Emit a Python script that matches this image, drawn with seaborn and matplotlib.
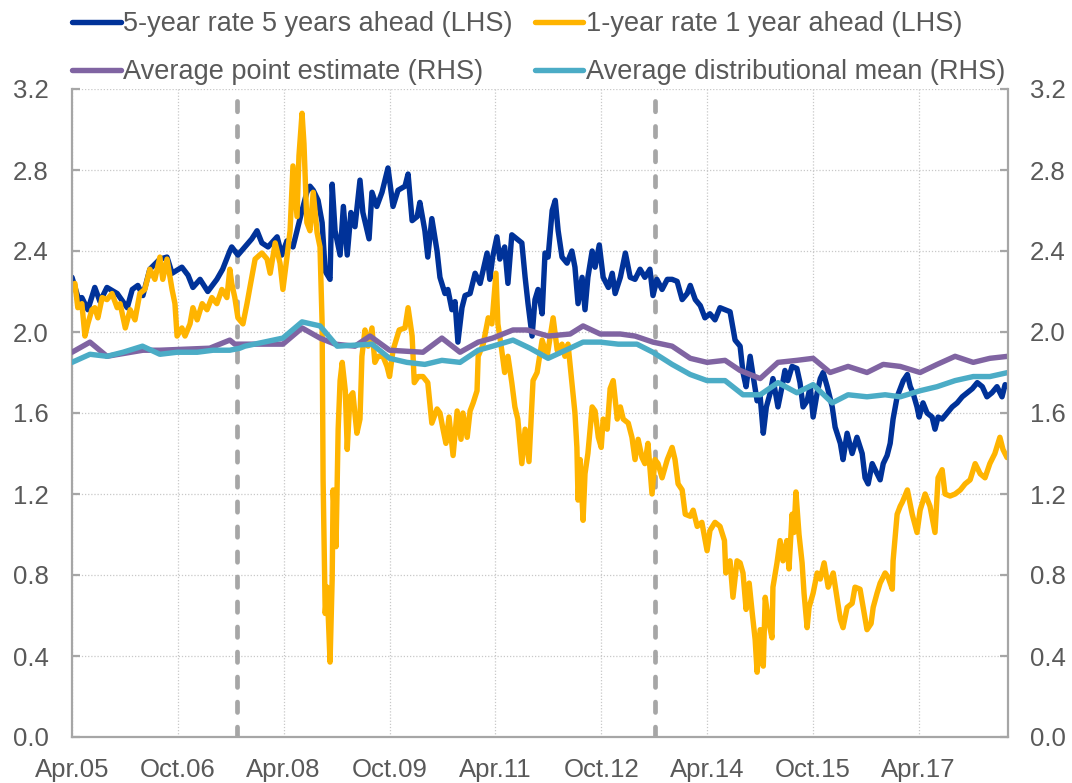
import pandas as pd
import matplotlib.pyplot as plt
import seaborn as sns

# 5-year rate 5 years ahead (LHS)
fwd5_dates = [
    "2005-04-01", "2005-05-12", "2005-05-22", "2005-06-22", "2005-07-28", "2005-08-24", "2005-09-29", "2005-11-21",
    "2006-01-12", "2006-02-07", "2006-03-08", "2006-04-03", "2006-05-09", "2006-06-30", "2006-08-06", "2006-09-01",
    "2006-10-22", "2006-11-23", "2006-12-18", "2007-01-24", "2007-03-05", "2007-04-21", "2007-05-21", "2007-06-27",
    "2007-07-07", "2007-08-08", "2007-09-13", "2007-10-19", "2007-11-15", "2007-12-10", "2008-01-11", "2008-02-27",
    "2008-03-22", "2008-04-18", "2008-05-19", "2008-06-09", "2008-07-05", "2008-07-30", "2008-08-15", "2008-09-01",
    "2008-09-26", "2008-10-17", "2008-11-02", "2008-11-27", "2008-12-08", "2008-12-23", "2009-01-18", "2009-02-04",
    "2009-02-24", "2009-03-15", "2009-04-05", "2009-05-01", "2009-05-16", "2009-06-17", "2009-07-02", "2009-07-27",
    "2009-08-23", "2009-09-23", "2009-10-19", "2009-11-14", "2009-12-20", "2010-01-05", "2010-01-26", "2010-02-21",
    "2010-03-07", "2010-04-02", "2010-04-17", "2010-05-08", "2010-06-04", "2010-06-19", "2010-07-15", "2010-07-30",
    "2010-08-20", "2010-09-05", "2010-09-20", "2010-10-11", "2010-10-27", "2010-11-22", "2010-12-18", "2011-01-13",
    "2011-02-18", "2011-03-04", "2011-03-19", "2011-04-10", "2011-04-25", "2011-05-20", "2011-06-06", "2011-06-26",
    "2011-07-22", "2011-08-17", "2011-09-03", "2011-09-18", "2011-10-09", "2011-10-24", "2011-11-09", "2011-11-30",
    "2011-12-15", "2011-12-31", "2012-01-21", "2012-02-06", "2012-02-21", "2012-03-12", "2012-04-07", "2012-05-02",
    "2012-05-18", "2012-06-03", "2012-06-24", "2012-07-09", "2012-07-24", "2012-08-15", "2012-08-30", "2012-09-21",
    "2012-10-11", "2012-11-07", "2012-11-27", "2012-12-12", "2013-01-08", "2013-02-03", "2013-02-28", "2013-03-25",
    "2013-04-20", "2013-05-15", "2013-06-10", "2013-06-26", "2013-07-16", "2013-08-12", "2013-09-08", "2013-10-03",
    "2013-10-29", "2013-11-24", "2013-12-20", "2014-01-05", "2014-01-31", "2014-02-26", "2014-03-22", "2014-04-17",
    "2014-05-13", "2014-06-08", "2014-07-04", "2014-07-30", "2014-08-25", "2014-09-20", "2014-10-05", "2014-10-21",
    "2014-11-11", "2014-11-27", "2014-12-17", "2015-01-02", "2015-01-18", "2015-02-03", "2015-02-23", "2015-03-09",
    "2015-04-04", "2015-04-25", "2015-05-10", "2015-05-25", "2015-06-16", "2015-07-11", "2015-07-27", "2015-08-12",
    "2015-09-02", "2015-09-18", "2015-10-03", "2015-10-24", "2015-11-09", "2015-11-24", "2015-12-15", "2016-01-10",
    "2016-01-25", "2016-02-21", "2016-03-06", "2016-03-27", "2016-04-22", "2016-05-17", "2016-06-13", "2016-06-28",
    "2016-07-14", "2016-08-04", "2016-08-19", "2016-09-14", "2016-09-30", "2016-10-20", "2016-11-05", "2016-11-20",
    "2016-12-11", "2016-12-27", "2017-01-12", "2017-02-02", "2017-02-17", "2017-03-03", "2017-03-24", "2017-04-04",
    "2017-04-24", "2017-05-15", "2017-06-10", "2017-06-25", "2017-07-11", "2017-08-01", "2017-08-27", "2017-09-22",
    "2017-10-18", "2017-11-13", "2017-12-09", "2018-01-04", "2018-01-30", "2018-02-25", "2018-03-21", "2018-04-16",
    "2018-05-12", "2018-06-07", "2018-06-23", "2018-07-08",
]
fwd5_vals = [
    2.27, 2.14, 2.17, 2.11, 2.22, 2.15, 2.22, 2.19,
    2.12, 2.21, 2.23, 2.18, 2.31, 2.36, 2.37, 2.29,
    2.32, 2.28, 2.22, 2.26, 2.20, 2.26, 2.31, 2.40,
    2.42, 2.38, 2.42, 2.46, 2.50, 2.44, 2.42, 2.47,
    2.38, 2.45, 2.42, 2.50, 2.60, 2.69, 2.72, 2.70,
    2.65, 2.54, 2.30, 2.26, 2.73, 2.50, 2.38, 2.62,
    2.38, 2.59, 2.52, 2.75, 2.59, 2.46, 2.69, 2.62,
    2.69, 2.81, 2.62, 2.70, 2.72, 2.78, 2.55, 2.57,
    2.64, 2.50, 2.37, 2.56, 2.40, 2.27, 2.19, 2.21,
    2.11, 2.15, 1.95, 2.12, 2.18, 2.19, 2.29, 2.24,
    2.39, 2.26, 2.37, 2.47, 2.36, 2.42, 2.24, 2.48,
    2.46, 2.44, 2.27, 2.14, 1.98, 2.16, 2.21, 2.09,
    2.39, 2.37, 2.60, 2.65, 2.50, 2.37, 2.34, 2.40,
    2.32, 2.14, 2.27, 2.11, 2.27, 2.40, 2.32, 2.43,
    2.27, 2.22, 2.29, 2.19, 2.27, 2.39, 2.27, 2.26,
    2.31, 2.27, 2.31, 2.18, 2.26, 2.21, 2.26, 2.26,
    2.25, 2.16, 2.19, 2.23, 2.16, 2.13, 2.07, 2.09,
    2.06, 2.12, 2.11, 2.10, 1.96, 1.93, 1.80, 1.73,
    1.88, 1.78, 1.66, 1.68, 1.50, 1.63, 1.70, 1.77,
    1.63, 1.73, 1.81, 1.76, 1.83, 1.82, 1.75, 1.63,
    1.66, 1.73, 1.58, 1.70, 1.77, 1.80, 1.73, 1.63,
    1.53, 1.45, 1.37, 1.50, 1.40, 1.48, 1.40, 1.28,
    1.25, 1.35, 1.32, 1.27, 1.35, 1.39, 1.45, 1.57,
    1.68, 1.72, 1.76, 1.79, 1.73, 1.70, 1.63, 1.58,
    1.65, 1.60, 1.58, 1.52, 1.58, 1.57, 1.60, 1.63,
    1.65, 1.68, 1.70, 1.72, 1.75, 1.73, 1.68, 1.70,
    1.73, 1.68, 1.74, 1.73,
]

# 1-year rate 1 year ahead (LHS)
fwd1_dates = [
    "2005-04-01", "2005-04-16", "2005-05-01", "2005-05-22", "2005-06-07", "2005-06-22", "2005-07-13", "2005-07-28",
    "2005-08-13", "2005-09-04", "2005-09-29", "2005-10-25", "2005-11-21", "2005-12-06", "2006-01-02", "2006-01-27",
    "2006-02-21", "2006-03-18", "2006-04-13", "2006-05-09", "2006-06-04", "2006-06-30", "2006-07-15", "2006-08-06",
    "2006-09-01", "2006-09-16", "2006-09-27", "2006-10-22", "2006-11-07", "2006-12-03", "2006-12-18", "2007-01-09",
    "2007-02-04", "2007-03-01", "2007-03-26", "2007-04-21", "2007-05-17", "2007-06-12", "2007-06-27", "2007-07-07",
    "2007-07-23", "2007-08-08", "2007-09-03", "2007-09-24", "2007-10-09", "2007-11-05", "2007-12-10", "2008-01-06",
    "2008-01-22", "2008-02-17", "2008-03-13", "2008-03-28", "2008-04-18", "2008-05-04", "2008-05-19", "2008-06-09",
    "2008-06-19", "2008-07-05", "2008-07-15", "2008-07-30", "2008-08-15", "2008-09-01", "2008-09-21", "2008-10-06",
    "2008-10-17", "2008-10-22", "2008-11-02", "2008-11-12", "2008-11-27", "2008-12-08", "2008-12-13", "2008-12-28",
    "2009-01-08", "2009-01-18", "2009-01-29", "2009-02-14", "2009-02-24", "2009-03-10", "2009-03-25", "2009-04-15",
    "2009-05-01", "2009-05-11", "2009-05-27", "2009-06-12", "2009-07-02", "2009-07-17", "2009-08-02", "2009-08-28",
    "2009-09-18", "2009-10-01", "2009-10-19", "2009-11-20", "2009-12-20", "2010-01-05", "2010-01-26", "2010-02-06",
    "2010-02-27", "2010-03-23", "2010-04-17", "2010-05-08", "2010-06-04", "2010-06-19", "2010-07-05", "2010-07-20",
    "2010-08-05", "2010-08-26", "2010-09-16", "2010-10-06", "2010-10-16", "2010-11-07", "2010-11-22", "2010-12-08",
    "2010-12-28", "2011-01-03", "2011-01-29", "2011-02-24", "2011-03-15", "2011-04-05", "2011-04-15", "2011-05-05",
    "2011-05-20", "2011-06-06", "2011-06-26", "2011-07-12", "2011-07-27", "2011-08-17", "2011-09-03", "2011-09-23",
    "2011-10-14", "2011-11-04", "2011-11-30", "2011-12-26", "2012-01-26", "2012-02-16", "2012-03-12", "2012-03-27",
    "2012-04-12", "2012-05-02", "2012-05-18", "2012-05-28", "2012-06-03", "2012-06-14", "2012-06-29", "2012-07-09",
    "2012-07-24", "2012-08-15", "2012-08-30", "2012-09-16", "2012-10-01", "2012-10-11", "2012-11-01", "2012-11-16",
    "2012-12-02", "2012-12-23", "2013-01-08", "2013-01-23", "2013-02-18", "2013-03-09", "2013-03-25", "2013-04-10",
    "2013-04-30", "2013-05-15", "2013-05-31", "2013-06-21", "2013-07-06", "2013-07-22", "2013-08-12", "2013-09-08",
    "2013-10-03", "2013-10-18", "2013-11-03", "2013-11-24", "2013-12-10", "2014-01-05", "2014-01-20", "2014-02-10",
    "2014-03-06", "2014-04-02", "2014-04-17", "2014-05-13", "2014-06-08", "2014-07-01", "2014-07-08", "2014-07-20",
    "2014-07-30", "2014-08-14", "2014-09-04", "2014-09-20", "2014-10-05", "2014-10-21", "2014-11-06", "2014-11-22",
    "2014-12-07", "2014-12-17", "2015-01-02", "2015-01-18", "2015-01-28", "2015-02-13", "2015-03-04", "2015-03-09",
    "2015-03-30", "2015-04-15", "2015-04-30", "2015-05-20", "2015-05-31", "2015-06-16", "2015-06-26", "2015-07-06",
    "2015-07-22", "2015-08-07", "2015-08-17", "2015-09-02", "2015-09-12", "2015-10-03", "2015-10-24", "2015-11-09",
    "2015-11-29", "2015-12-20", "2016-01-15", "2016-02-05", "2016-02-21", "2016-03-06", "2016-03-27", "2016-04-22",
    "2016-05-07", "2016-06-02", "2016-06-18", "2016-07-08", "2016-07-29", "2016-08-09", "2016-08-29", "2016-09-14",
    "2016-10-10", "2016-10-25", "2016-11-16", "2016-11-20", "2016-12-11", "2016-12-27", "2017-01-07", "2017-02-02",
    "2017-02-27", "2017-03-24", "2017-04-09", "2017-05-05", "2017-05-30", "2017-06-25", "2017-07-11", "2017-08-01",
    "2017-08-16", "2017-09-11", "2017-10-07", "2017-11-03", "2017-11-28", "2017-12-24", "2018-01-19", "2018-02-14",
    "2018-03-11", "2018-04-05", "2018-05-01", "2018-05-27", "2018-06-12", "2018-07-03",
]
fwd1_vals = [
    2.21, 2.24, 2.12, 2.14, 1.98, 2.04, 2.11, 2.12,
    2.07, 2.17, 2.16, 2.19, 2.12, 2.14, 2.02, 2.11,
    2.06, 2.19, 2.21, 2.31, 2.26, 2.37, 2.26, 2.36,
    2.21, 2.14, 1.98, 2.02, 1.98, 2.04, 2.12, 2.06,
    2.14, 2.11, 2.17, 2.14, 2.21, 2.17, 2.31, 2.24,
    2.17, 2.07, 2.04, 2.14, 2.22, 2.36, 2.39, 2.36,
    2.29, 2.44, 2.34, 2.21, 2.37, 2.50, 2.82, 2.57,
    2.87, 3.08, 2.93, 2.54, 2.50, 2.69, 2.49, 2.42,
    2.04, 1.27, 0.61, 0.74, 0.37, 0.78, 1.22, 0.94,
    1.52, 1.76, 1.85, 1.71, 1.42, 1.68, 1.70, 1.50,
    1.57, 1.88, 2.01, 1.93, 2.02, 1.85, 1.88, 1.88,
    1.83, 1.78, 1.91, 2.01, 2.02, 2.12, 1.98, 1.75,
    1.78, 1.78, 1.75, 1.55, 1.62, 1.60, 1.52, 1.45,
    1.58, 1.39, 1.61, 1.47, 1.60, 1.48, 1.61, 1.65,
    1.71, 1.88, 1.94, 2.07, 2.04, 2.29, 2.04, 1.91,
    1.80, 1.88, 1.75, 1.63, 1.57, 1.35, 1.52, 1.36,
    1.76, 1.80, 1.96, 1.88, 2.07, 1.91, 1.94, 1.88,
    1.94, 1.75, 1.60, 1.43, 1.17, 1.37, 1.07, 1.30,
    1.40, 1.63, 1.61, 1.48, 1.43, 1.57, 1.52, 1.72,
    1.76, 1.57, 1.63, 1.57, 1.55, 1.48, 1.37, 1.47,
    1.38, 1.35, 1.45, 1.20, 1.37, 1.35, 1.28, 1.37,
    1.43, 1.37, 1.25, 1.22, 1.10, 1.09, 1.12, 1.04,
    1.06, 0.92, 1.02, 1.06, 1.04, 0.97, 0.81, 0.86,
    0.87, 0.69, 0.87, 0.86, 0.81, 0.63, 0.76, 0.61,
    0.48, 0.32, 0.53, 0.35, 0.69, 0.58, 0.49, 0.74,
    0.86, 0.97, 0.87, 0.97, 0.83, 1.10, 1.01, 1.21,
    1.00, 0.86, 0.71, 0.54, 0.64, 0.71, 0.81, 0.78,
    0.86, 0.74, 0.81, 0.68, 0.58, 0.54, 0.64, 0.66,
    0.74, 0.73, 0.64, 0.53, 0.56, 0.64, 0.71, 0.76,
    0.81, 0.79, 0.73, 0.87, 1.10, 1.14, 1.16, 1.22,
    1.10, 1.01, 1.12, 1.20, 1.14, 1.01, 1.28, 1.32,
    1.20, 1.19, 1.20, 1.22, 1.25, 1.27, 1.35, 1.30,
    1.28, 1.35, 1.40, 1.48, 1.42, 1.38,
]

# Average point estimate (RHS)
point_dates = [
    "2005-04-01", "2005-07-03", "2005-09-29", "2006-04-03", "2006-06-30", "2007-03-15", "2007-06-27", "2007-07-23",
    "2008-03-28", "2008-07-05", "2008-10-06", "2008-12-23", "2009-04-05", "2009-06-22", "2009-10-01", "2010-03-23",
    "2010-06-29", "2010-10-01", "2011-01-03", "2011-03-19", "2011-07-02", "2011-09-13", "2011-12-31", "2012-04-23",
    "2012-06-29", "2012-09-26", "2013-01-08", "2013-03-25", "2013-06-26", "2013-10-03", "2014-01-05", "2014-04-02",
    "2014-07-04", "2014-09-20", "2015-01-02", "2015-04-04", "2015-07-11", "2015-10-03", "2015-12-30", "2016-04-01",
    "2016-07-08", "2016-09-30", "2016-12-27", "2017-04-09", "2017-07-06", "2017-10-07", "2018-01-09", "2018-04-05",
    "2018-07-08",
]
point_vals = [
    1.90, 1.95, 1.88, 1.91, 1.91, 1.92, 1.96, 1.94,
    1.94, 2.02, 1.97, 1.94, 1.93, 1.98, 1.91, 1.90,
    1.97, 1.90, 1.95, 1.97, 2.01, 2.01, 1.98, 1.99,
    2.03, 1.99, 1.99, 1.98, 1.95, 1.93, 1.87, 1.85,
    1.86, 1.81, 1.77, 1.85, 1.86, 1.87, 1.80, 1.83,
    1.80, 1.84, 1.83, 1.80, 1.84, 1.88, 1.85, 1.87,
    1.88,
]

# Average distributional mean (RHS)
dist_dates = [
    "2005-04-01", "2005-07-03", "2005-09-29", "2005-12-21", "2006-04-01", "2006-06-30", "2006-09-27", "2007-01-09",
    "2007-04-01", "2007-06-27", "2007-08-18", "2007-09-13", "2008-03-28", "2008-07-05", "2008-10-06", "2009-01-03",
    "2009-07-02", "2009-10-01", "2009-12-30", "2010-04-02", "2010-06-29", "2010-10-01", "2011-01-03", "2011-03-19",
    "2011-07-02", "2011-09-28", "2011-12-31", "2012-04-23", "2012-06-29", "2012-09-26", "2012-12-28", "2013-04-04",
    "2013-06-26", "2013-10-03", "2014-01-05", "2014-04-02", "2014-07-04", "2014-10-05", "2015-01-02", "2015-04-04",
    "2015-07-11", "2015-10-03", "2016-01-10", "2016-04-01", "2016-07-08", "2016-10-10", "2016-12-27", "2017-04-09",
    "2017-07-06", "2017-10-07", "2018-01-09", "2018-04-05", "2018-07-08",
]
dist_vals = [
    1.85, 1.89, 1.88, 1.90, 1.93, 1.89, 1.90, 1.90,
    1.91, 1.91, 1.92, 1.93, 1.97, 2.05, 2.03, 1.93,
    1.94, 1.87, 1.85, 1.84, 1.86, 1.85, 1.91, 1.93,
    1.96, 1.92, 1.87, 1.92, 1.95, 1.95, 1.94, 1.94,
    1.90, 1.84, 1.79, 1.76, 1.76, 1.69, 1.69, 1.75,
    1.70, 1.74, 1.65, 1.69, 1.68, 1.69, 1.68, 1.71,
    1.73, 1.76, 1.78, 1.78, 1.80,
]

tick_dates = ["2005-04-01", "2006-10-01", "2008-04-01", "2009-10-01", "2011-04-01",
              "2012-10-01", "2014-04-01", "2015-10-01", "2017-04-01"]
tick_labels = ["Apr.05", "Oct.06", "Apr.08", "Oct.09", "Apr.11",
               "Oct.12", "Apr.14", "Oct.15", "Apr.17"]
event_dates = ["2007-08-01", "2013-07-04"]
x_start, x_end = "2005-04-01", "2018-07-08"
y_ticks = [0.0, 0.4, 0.8, 1.2, 1.6, 2.0, 2.4, 2.8, 3.2]

DARK_BLUE = "#003299"
YELLOW = "#FFB400"
PURPLE = "#8064A2"
TEAL = "#4BACC6"
GREY = "#A6A6A6"
TEXT = "#595959"


def frame(dates, vals):
    assert len(dates) == len(vals)
    return pd.DataFrame({"date": pd.to_datetime(dates), "value": vals})


sns.set_theme(style="white")
plt.rcParams["font.family"] = ["Liberation Sans", "DejaVu Sans"]

fig = plt.figure(figsize=(10.72, 7.83), dpi=100)
ax = fig.add_axes([72 / 1072, 1 - 737 / 783, 936 / 1072, 648 / 783])
ax2 = ax.twinx()

lw = 3.9
sns.lineplot(data=frame(fwd5_dates, fwd5_vals), x="date", y="value", ax=ax, color=DARK_BLUE,
             linewidth=lw, estimator=None, sort=False, label="5-year rate 5 years ahead (LHS)", legend=False)
sns.lineplot(data=frame(fwd1_dates, fwd1_vals), x="date", y="value", ax=ax, color=YELLOW,
             linewidth=lw, estimator=None, sort=False, label="1-year rate 1 year ahead (LHS)", legend=False)
sns.lineplot(data=frame(point_dates, point_vals), x="date", y="value", ax=ax2, color=PURPLE,
             linewidth=lw, estimator=None, sort=False, label="Average point estimate (RHS)", legend=False)
sns.lineplot(data=frame(dist_dates, dist_vals), x="date", y="value", ax=ax2, color=TEAL,
             linewidth=lw, estimator=None, sort=False, label="Average distributional mean (RHS)", legend=False)

for d in pd.to_datetime(event_dates):
    ax.axvline(d, color=GREY, linewidth=3.4, linestyle=(0, (2.2, 3.1)),
               dash_capstyle="round", zorder=1)

xlim = (pd.Timestamp(x_start), pd.Timestamp(x_end))
for a in (ax, ax2):
    a.set_xlim(xlim)
    a.set_ylim(0, 3.2)
    a.set_yticks(y_ticks)
    a.set_yticklabels([f"{v:.1f}" for v in y_ticks])
    a.set_xlabel("")
    a.set_ylabel("")
    for s in a.spines.values():
        s.set_visible(False)

ax.set_xticks(pd.to_datetime(tick_dates))
ax.set_xticklabels(tick_labels)
ax.grid(True, color="#C8C8C8", linestyle=(0, (1, 1.5)), linewidth=0.9)
ax.set_axisbelow(True)

ax.spines["left"].set_visible(True)
ax.spines["bottom"].set_visible(True)
ax2.spines["right"].set_visible(True)
for s in (ax.spines["left"], ax.spines["bottom"], ax2.spines["right"]):
    s.set_color(GREY)
    s.set_linewidth(1.6)

ax.tick_params(axis="y", direction="in", length=6, width=1.6, color=GREY,
               labelsize=18.5, labelcolor=TEXT, pad=17, left=True)
ax.tick_params(axis="x", length=0, labelsize=18.5, labelcolor=TEXT, pad=15)
ax2.tick_params(axis="y", direction="in", length=6, width=1.6, color=GREY,
                labelsize=18.5, labelcolor=TEXT, pad=16, right=True)

h1, l1 = ax.get_legend_handles_labels()
h2, l2 = ax2.get_legend_handles_labels()
handles = [h1[0], h2[0], h1[1], h2[1]]
labels = [l1[0], l2[0], l1[1], l2[1]]
fig.legend(handles, labels, ncol=2, loc="upper left", bbox_to_anchor=(72 / 1072, 1 - 11 / 783),
           frameon=False, fontsize=19.5, labelcolor=TEXT, handlelength=1.8, handletextpad=0.1,
           columnspacing=0.8, labelspacing=0.82, borderpad=0, borderaxespad=0)

fig.savefig("out.png", dpi=100)
